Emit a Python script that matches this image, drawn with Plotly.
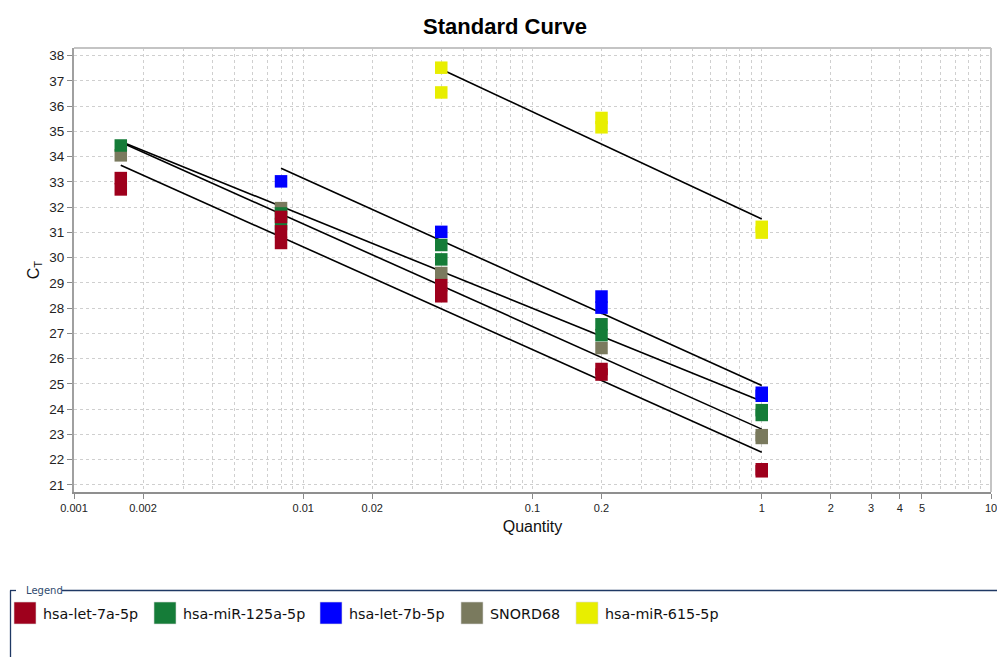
import numpy as np
import plotly.graph_objects as go

# ---------------- data ----------------
series_names = ["hsa-let-7a-5p", "hsa-miR-125a-5p", "hsa-let-7b-5p", "SNORD68", "hsa-miR-615-5p"]
series_colors = ["#9E001C", "#157C38", "#0000FF", "#7A7A5E", "#E8EE00"]

let7a_qty = [0.0016, 0.0016, 0.008, 0.008, 0.008, 0.04, 0.04, 0.2, 0.2, 1, 1]
let7a_ct = [33.15, 32.70, 31.61, 31.04, 30.58, 28.91, 28.47, 25.59, 25.37, 21.62, 21.54]

mir125a_qty = [0.0016, 0.008, 0.008, 0.04, 0.04, 0.2, 0.2, 1, 1]
mir125a_ct = [34.44, 31.75, 31.33, 30.50, 29.93, 27.36, 26.93, 23.96, 23.77]

let7b_qty = [0.008, 0.04, 0.2, 0.2, 1, 1]
let7b_ct = [33.02, 31.02, 28.46, 28.02, 24.65, 24.53]

snord68_qty = [0.0016, 0.008, 0.04, 0.2, 1, 1]
snord68_ct = [34.05, 31.96, 29.39, 26.42, 22.97, 22.86]

mir615_qty = [0.04, 0.04, 0.2, 0.2, 1, 1]
mir615_ct = [37.52, 36.54, 35.53, 35.16, 31.22, 30.99]

series_qty = [let7a_qty, mir125a_qty, let7b_qty, snord68_qty, mir615_qty]
series_ct = [let7a_ct, mir125a_ct, let7b_ct, snord68_ct, mir615_ct]

x_tick_vals = [0.001, 0.002, 0.01, 0.02, 0.1, 0.2, 1, 2, 3, 4, 5, 10]
x_tick_text = ["0.001", "0.002", "0.01", "0.02", "0.1", "0.2", "1", "2", "3", "4", "5", "10"]

# ---------------- layout geometry ----------------
W, H = 997, 657
L, R, T, B = 74, 991, 48, 492


def px_x(px):
    return (px - L) / (R - L)


def px_y(py):
    return (B - py) / (B - T)


FONT = "Liberation Sans, Arial, sans-serif"
LFONT = "DejaVu Sans, Verdana, sans-serif"

fig = go.Figure()

# regression lines (fit of Ct vs log10(quantity) over each series' range)
for qty, ct in zip(series_qty, series_ct):
    lx = np.log10(np.array(qty, dtype=float))
    a, b = np.polyfit(lx, np.array(ct, dtype=float), 1)
    q_ends = [min(qty), max(qty)]
    fig.add_trace(go.Scatter(
        x=q_ends, y=[a * np.log10(q) + b for q in q_ends],
        mode="lines", line=dict(color="black", width=1.6),
        showlegend=False, hoverinfo="skip"))

# data points, drawn in reverse legend order (red on top)
for i in reversed(range(len(series_names))):
    fig.add_trace(go.Scatter(
        x=series_qty[i], y=series_ct[i], mode="markers", name=series_names[i],
        marker=dict(symbol="square", size=12.5, color=series_colors[i], line=dict(width=0)),
        showlegend=False))

# minor grid positions for the log axis
minor_vals = [m * 10.0 ** e for e in range(-3, 1) for m in range(1, 10)
              if not any(abs(m * 10.0 ** e - v) < 1e-12 for v in x_tick_vals)]

grid_col = "#CFCFCF"
fig.update_xaxes(
    type="log", range=[-3, 1], automargin=False,
    tickvals=x_tick_vals, ticktext=x_tick_text, ticklabeloverflow="allow",
    tickfont=dict(family=FONT, size=11, color="#222"),
    ticks="outside", ticklen=5, tickcolor="#8A8A8A", tickwidth=1,
    showline=True, linecolor="#8F8F8F", linewidth=2,
    showgrid=True, gridcolor=grid_col, griddash="3px,3px", gridwidth=1,
    minor=dict(tickvals=minor_vals, showgrid=True, gridcolor=grid_col,
               griddash="3px,3px", gridwidth=1, ticks=""),
    zeroline=False,
    title=dict(text="Quantity", font=dict(family=FONT, size=16, color="#111"), standoff=8),
)
fig.update_yaxes(
    range=[20.72, 38.3], tick0=21, dtick=1, automargin=False, ticklabeloverflow="allow",
    tickfont=dict(family=FONT, size=13.5, color="#222"),
    ticks="outside", ticklen=5, tickcolor="#8A8A8A", tickwidth=1,
    showline=True, linecolor="#A0A0A0", linewidth=2,
    showgrid=True, gridcolor=grid_col, griddash="3px,3px", gridwidth=1,
    zeroline=False,
    title=dict(text="C<sub>T</sub>", font=dict(family=FONT, size=16, color="#111"), standoff=6),
)

shapes = [
    # top and right frame of the plot area
    dict(type="line", xref="paper", yref="paper", x0=0, x1=1, y0=1, y1=1,
         line=dict(color="#C4C4C4", width=2)),
    dict(type="line", xref="paper", yref="paper", x0=1, x1=1, y0=0, y1=1,
         line=dict(color="#C4C4C4", width=2)),
    # legend group box
    dict(type="line", xref="paper", yref="paper", x0=px_x(10), x1=px_x(16),
         y0=px_y(590.5), y1=px_y(590.5), line=dict(color="#1F3864", width=1.3)),
    dict(type="line", xref="paper", yref="paper", x0=px_x(62), x1=px_x(1000),
         y0=px_y(590.5), y1=px_y(590.5), line=dict(color="#1F3864", width=1.3)),
    dict(type="line", xref="paper", yref="paper", x0=px_x(10.5), x1=px_x(10.5),
         y0=px_y(590.5), y1=px_y(660), line=dict(color="#1F3864", width=1.3)),
]
annotations = [
    dict(text="Legend", xref="paper", yref="paper", x=px_x(24), y=px_y(590.5),
         xanchor="left", yanchor="middle", showarrow=False,
         font=dict(family=LFONT, size=10, color="#2E4A6E")),
]

leg_sq_x = [14, 154, 320, 461, 576]
for i, name in enumerate(series_names):
    x0 = leg_sq_x[i]
    shapes.append(dict(type="rect", xref="paper", yref="paper",
                       x0=px_x(x0), x1=px_x(x0 + 22), y0=px_y(602), y1=px_y(624),
                       fillcolor=series_colors[i], line=dict(color="#D8D8D8", width=0.6)))
    annotations.append(dict(text=name, xref="paper", yref="paper",
                            x=px_x(x0 + 27), y=px_y(613.5), xanchor="left", yanchor="middle",
                            showarrow=False, font=dict(family=LFONT, size=14.3, color="#111")))

fig.update_layout(
    width=W, height=H,
    margin=dict(l=L, r=W - R, t=T, b=H - B, autoexpand=False),
    paper_bgcolor="white", plot_bgcolor="white",
    title=dict(text="<b>Standard Curve</b>", x=505 / W, xanchor="center",
               y=1 - 26 / H, yanchor="middle", xref="container", yref="container",
               font=dict(family=FONT, size=22, color="black"), automargin=False),
    shapes=shapes, annotations=annotations,
    showlegend=False,
)

fig.write_html("out.html", config={"displayModeBar": False},
               post_script="document.body.style.margin='0';document.body.style.overflow='hidden';")
